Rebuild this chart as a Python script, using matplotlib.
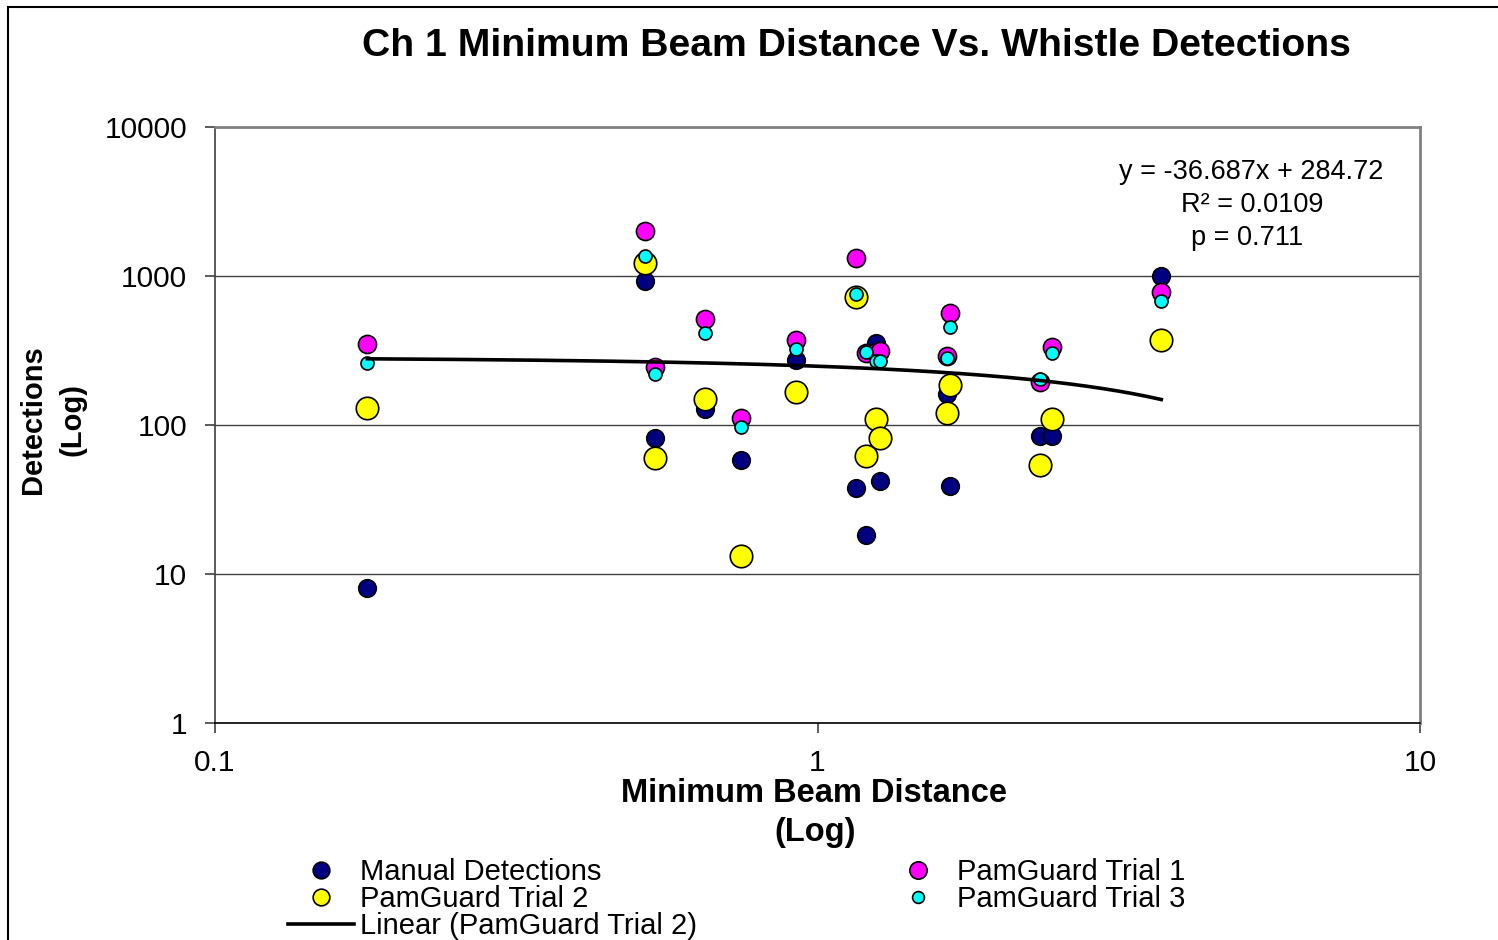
import numpy as np
import matplotlib
matplotlib.use("Agg")
import matplotlib.pyplot as plt
from matplotlib.lines import Line2D
from matplotlib.patches import Rectangle

plt.rcParams['font.family'] = ['Liberation Sans', 'DejaVu Sans']

# minimum beam distance per sample and detections per method
beam_dist = [0.179, 0.517, 0.537, 0.651, 0.746, 0.921, 1.158, 1.204,
             1.25, 1.27, 1.64, 1.66, 2.34, 2.45, 3.72]
manual = [8.1, 925, 82, 129, 58, 273, 38, 18.3, 355, 42, 161, 39, 85, 85, 1000]
trial1 = [348, 2000, 246, 512, 111, 372, 1315, 302, 310, 315, 290, 567, 195, 335, 778]
trial2 = [130, 1230, 60, 149, 13.2, 166, 726, 62, 109, 82, 121, 185, 54, 109, 372]
trial3 = [260, 1360, 220, 412, 97.5, 324, 754, 310, 268, 270, 283, 457, 204, 303, 679]

# linear trendline fitted to trial 2
slope = -36.687
intercept = 284.72
r_squared = 0.0109
p_value = 0.711

x_ticks = [0.1, 1, 10]
x_tick_labels = ['0.1', '1', '10']
y_ticks = [1, 10, 100, 1000, 10000]
y_tick_labels = ['1', '10', '100', '1000', '10000']

fig = plt.figure(figsize=(14.98, 9.40), dpi=100)
ax = fig.add_axes([215/1498, 217/940, 1205/1498, 596/940])

ax.set_xscale('log')
ax.set_yscale('log')
ax.set_xlim(0.1, 10)
ax.set_ylim(1, 10000)

for yv in y_ticks[1:-1]:
    ax.axhline(yv, color='#404040', lw=1.0, zorder=1)

edge = dict(edgecolors='black', linewidths=1.2)
ax.scatter(beam_dist, manual, s=160, c='#000080', zorder=3, **edge)
ax.scatter(beam_dist, trial1, s=170, c='#FF00FF', zorder=4, **edge)
ax.scatter(beam_dist, trial2, s=262, c='#FFFF00', zorder=5, **edge)
ax.scatter(beam_dist, trial3, s=88, c='#00FFFF', zorder=6, **edge)

xs = np.linspace(min(beam_dist), max(beam_dist), 200)
ax.plot(xs, slope * xs + intercept, color='black', lw=2.6, zorder=7)

ax.set_xticks(x_ticks)
ax.set_xticklabels(x_tick_labels)
ax.set_yticks(y_ticks)
ax.set_yticklabels(y_tick_labels)
ax.minorticks_off()
ax.tick_params(axis='both', direction='out', length=7, width=1.2,
               labelsize=21.5, color='#404040')
ax.tick_params(axis='y', pad=13)
ax.tick_params(axis='x', pad=12)

ax.spines['top'].set_color('#808080')
ax.spines['right'].set_color('#808080')
ax.spines['top'].set_linewidth(2)
ax.spines['right'].set_linewidth(2)
ax.spines['left'].set_color('#404040')
ax.spines['left'].set_linewidth(1.2)
ax.spines['bottom'].set_color('black')
ax.spines['bottom'].set_linewidth(1.2)

fig.text(856/1498, 1 - 46/940, 'Ch 1 Minimum Beam Distance Vs. Whistle Detections',
         ha='center', va='center', fontsize=28.2, fontweight='bold')

fig.text(814/1498, 1 - 794/940, 'Minimum Beam Distance', ha='center', va='center',
         fontsize=23.5, fontweight='bold')
fig.text(815/1498, 1 - 832/940, '(Log)', ha='center', va='center',
         fontsize=23.5, fontweight='bold')
fig.text(33/1498, 1 - 420/940, 'Detections', ha='center', va='center',
         fontsize=21, fontweight='bold', rotation=90)
fig.text(72/1498, 1 - 420/940, '(Log)', ha='center', va='center',
         fontsize=21, fontweight='bold', rotation=90)

fig.text(1251/1498, 1 - 172/940, f'y = {slope}x + {intercept}', ha='center', va='center', fontsize=19.5)
fig.text(1252/1498, 1 - 205/940, f'R\u00b2 = {r_squared}', ha='center', va='center', fontsize=19.5)
fig.text(1247/1498, 1 - 238/940, f'p = {p_value}', ha='center', va='center', fontsize=19.5)

# legend, filled column by column
h_manual = Line2D([], [], ls='none', marker='o', ms=12, mfc='#000080', mec='black', mew=1.2)
h_t1 = Line2D([], [], ls='none', marker='o', ms=12.5, mfc='#FF00FF', mec='black', mew=1.2)
h_t2 = Line2D([], [], ls='none', marker='o', ms=12, mfc='#FFFF00', mec='black', mew=1.2)
h_t3 = Line2D([], [], ls='none', marker='o', ms=8.5, mfc='#00FFFF', mec='black', mew=1.2)
h_lin = Line2D([], [], color='black', lw=2.6)
handles = [h_manual, h_t2, h_lin, h_t1, h_t3]
labels = ['Manual Detections', 'PamGuard Trial 2', 'Linear (PamGuard Trial 2)',
          'PamGuard Trial 1', 'PamGuard Trial 3']
fig.legend(handles, labels, ncol=2, loc='upper left',
           bbox_to_anchor=(288/1498, 1 - 858/940), frameon=False, fontsize=21,
           handlelength=2.25, handletextpad=0.22, labelspacing=-0.03,
           columnspacing=6.45, borderpad=0, borderaxespad=0)

# outer chart border
fig.patches.append(Rectangle((8/1498, -0.1), 1.2, 1.1 - 7/940, transform=fig.transFigure,
                             fill=False, edgecolor='black', lw=1.5))

fig.savefig('out.png', dpi=100)
